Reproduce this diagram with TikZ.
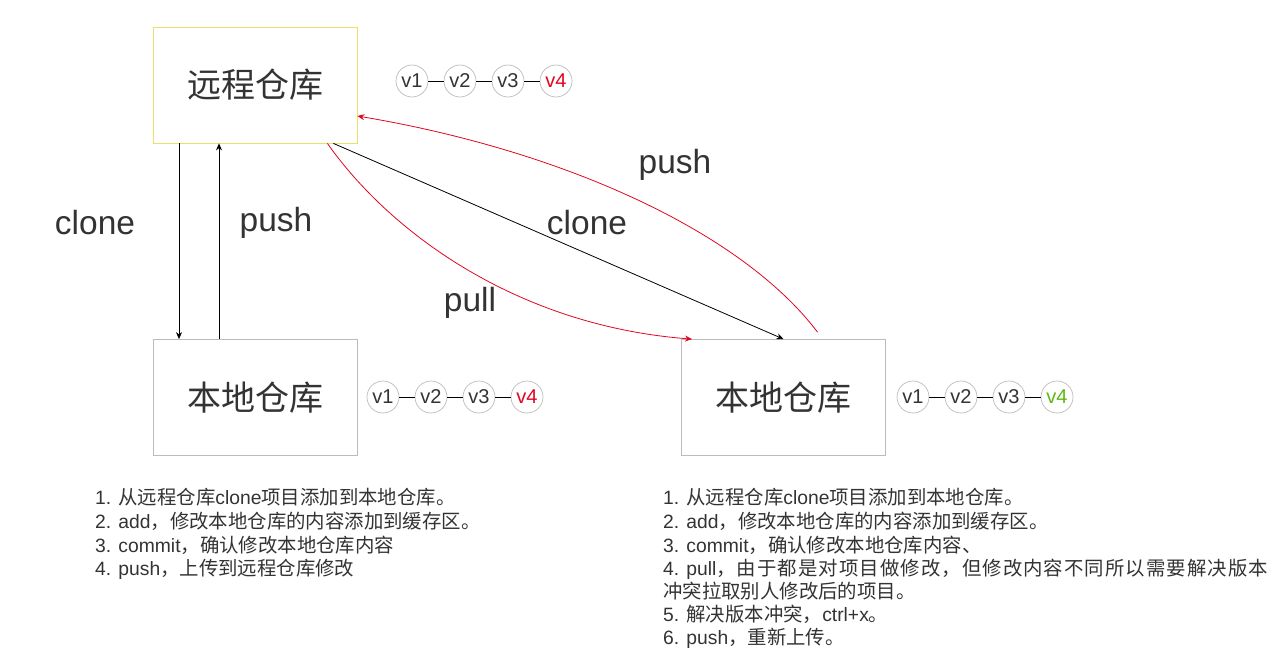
\documentclass[tikz,border=0pt]{standalone}
\usepackage{fontspec}
\setmainfont{Liberation Sans}
\newfontfamily\cjk{Noto Sans CJK SC}
\newfontfamily\cjkwide[LetterSpace=5.5]{Noto Sans CJK SC}
\usetikzlibrary{arrows.meta}
\definecolor{txt}{HTML}{333333}
\definecolor{arrred}{HTML}{E0061F}
\definecolor{grn}{HTML}{5DB814}
\definecolor{ylw}{HTML}{EAE06A}
\definecolor{gry}{HTML}{BBBBBB}
\newcommand\lt[1]{{\rmfamily\fontsize{19.3}{23}\selectfont #1}}
\begin{document}
\begin{tikzpicture}[x=1pt,y=-1pt,
  box/.style={draw, minimum width=204pt, minimum height=116pt, inner sep=0pt, line width=0.8pt, font=\cjk\fontsize{34}{40}\selectfont, text=txt},
  ver/.style={circle, draw=gry, line width=0.7pt, minimum size=32pt, inner sep=0pt, font=\fontsize{20}{24}\selectfont, text=txt},
  vlink/.style={black, line width=0.8pt},
  arr/.style={-{Stealth[length=7pt,width=6pt]}, line width=0.8pt},
  lbl/.style={font=\fontsize{33.5}{38}\selectfont, text=txt, inner sep=0pt},
  item/.style={anchor=base west, inner sep=0pt, font=\cjk\fontsize{19.4}{24}\selectfont, text=txt}
]
\useasboundingbox (0,0) rectangle (1277,659);

\node[box, draw=ylw] (remote) at (255,85) {远程仓库};
\node[box, draw=gry] (localA) at (255,397.5) {本地仓库};
\node[box, draw=gry] (localB) at (783.5,397.5) {本地仓库};

% versions remote
\node[ver] (r1) at (412,81) {v1};
\node[ver] (r2) at (460,81) {v2};
\node[ver] (r3) at (508,81) {v3};
\node[ver, text=arrred] (r4) at (556,81) {v4};
\draw[vlink] (r1) -- (r2) (r2) -- (r3) (r3) -- (r4);
% versions local A
\node[ver] (a1) at (383,397) {v1};
\node[ver] (a2) at (431,397) {v2};
\node[ver] (a3) at (479,397) {v3};
\node[ver, text=arrred] (a4) at (527,397) {v4};
\draw[vlink] (a1) -- (a2) (a2) -- (a3) (a3) -- (a4);
% versions local B
\node[ver] (b1) at (913,397) {v1};
\node[ver] (b2) at (961,397) {v2};
\node[ver] (b3) at (1009,397) {v3};
\node[ver, text=grn] (b4) at (1057,397) {v4};
\draw[vlink] (b1) -- (b2) (b2) -- (b3) (b3) -- (b4);

% left arrows
\draw[arr] ([xshift=-76pt]remote.south) -- ([xshift=-76pt]localA.north);
\draw[arr] ([xshift=-36pt]localA.north) -- ([xshift=-36pt]remote.south);
\node[lbl] (lclone) at (95,223) {clone};
\node[lbl] (lpush) at (276,223) {push};

% diagonal clone
\draw[arr] ([xshift=-24pt]remote.south east) -- (localB.north);
\node[lbl] (dclone) at (587,223) {clone};

% pull
\draw[arr, arrred] ([xshift=-30pt]remote.south east) .. controls (392,235) and (520,326) .. ([xshift=-91.5pt]localB.north);
\node[lbl] (lpull) at (470,303) {pull};

% push red
\draw[arr, arrred] ([shift={(34,-7)}]localB.north) .. controls (740,230) and (560,150) .. ([shift={(0,31)}]remote.east);
\node[lbl] (rpush) at (675,165) {push};

% left list
\node[item] (l1) at (95,504) {\lt{1. }从远程仓库\lt{clone}项目添加到本地仓库。};
\node[item] (l2) at (95,528) {\lt{2. add}，修改本地仓库的内容添加到缓存区。};
\node[item] (l3) at (95,552) {\lt{3. commit}，确认修改本地仓库内容};
\node[item] (l4) at (95,575) {\lt{4. push}，上传到远程仓库修改};

% right list
\node[item] (m1) at (663,504) {\lt{1. }从远程仓库\lt{clone}项目添加到本地仓库。};
\node[item] (m2) at (663,528) {\lt{2. add}，修改本地仓库的内容添加到缓存区。};
\node[item] (m3) at (663,552) {\lt{3. commit}，确认修改本地仓库内容、};
\node[item] (m4) at (663,575) {\lt{4. pull}{\cjkwide ，由于都是对项目做修改，但修改内容不同所以需要解决版本}};
\node[item] (m5) at (663,598) {冲突拉取别人修改后的项目。};
\node[item] (m6) at (663,621) {\lt{5. }解决版本冲突，\lt{ctrl+x}。};
\node[item] (m7) at (663,644) {\lt{6. push}，重新上传。};
\end{tikzpicture}
\end{document}
